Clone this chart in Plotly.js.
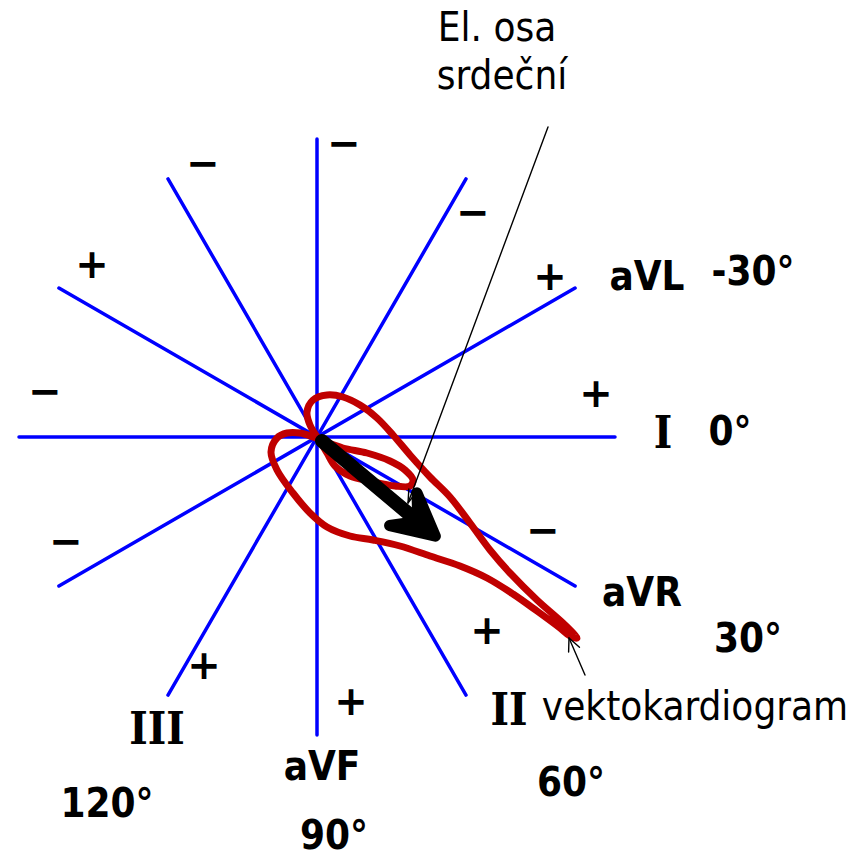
<!DOCTYPE html>
<html><head><meta charset="utf-8">
<script src="https://cdn.plot.ly/plotly-3.0.1.min.js"></script>
<style>html,body{margin:0;padding:0;background:#fff;} .js-line{stroke-linecap:round;stroke-linejoin:round;}</style>
</head><body><div id="chart" style="width:865px;height:856px;"></div>
<script>
// Hexaxial reference system: lead axes (degrees, positive = downward)
const leadAngles = [0, 30, 60, 90, 120, 150];
const leadRadius = 298;

// Vectorcardiogram loop (offset from the centre, y downward)
const vcgX = [1,-7,-10,-4,10,26,43,60,76,93,113,133,153,173,193,220,246,257,260,253,243,220,196,170,143,113,83,56,33,10,-7,-24,-40,-46,-40,-30,-17,-4,6,26,50,73,88,96,93,78,53,33,18,10,3];
const vcgY = [1,-12,-25,-37,-42,-40,-32,-19,-2,18,40,60,86,113,136,163,186,197,201,199,191,174,157,141,129,119,109,103,99,90,76,56,33,15,1,-4,-4,0,4,11,16,24,33,43,49,49,44,39,29,16,4];

// Electrical heart axis (degrees, length)
const axisAngle = 40;
const axisLength = 148;
const axisStart = [5, 4];

// Thin label pointers
const axisPointerFrom = [231, -310], axisPointerTo = [91, 66];
const vcgPointerFrom = [268, 238], vcgPointerTo = [252, 201];

// Polarity signs
const signText = ['\u2212','+','\u2212','+','\u2212','+','+','\u2212','+','\u2212','+','\u2212'];
const signX = [-114,170,27,34,156,-113,233,-251,-225,226,279,-272];
const signY = [-270,197,-290,268,-221,232,-157,108,-169,97,-40,-42];

// Lead labels (bold)
const boldText = ['aVL','-30\u00b0','0\u00b0','aVR','30\u00b0','60\u00b0','aVF','120\u00b0','90\u00b0'];
const boldX = [330,436,413,325,431,254,5,-210,17];
const boldY = [-157,-162,-2,159,205,349,333,370,402];
// Roman lead labels
const romanText = ['I','II','III'];
const romanX = [346,192,-160];
const romanY = [0,277,296];
// Plain labels
const plainText = ['vektokardiogram','El. osa','srde\u010dn\u00ed'];
const plainX = [378,180,185];
const plainY = [273,-406,-358];

const cx = 317, cy = 437, W = 865, H = 856;
const rad = d => d * Math.PI / 180;

// lead lines
const lx = [], ly = [];
leadAngles.forEach(a => {
  lx.push(-leadRadius*Math.cos(rad(a)), leadRadius*Math.cos(rad(a)), null);
  ly.push(-leadRadius*Math.sin(rad(a)), leadRadius*Math.sin(rad(a)), null);
});

// electrical axis arrow
const ux = Math.cos(rad(axisAngle)), uy = Math.sin(rad(axisAngle));
const tip = [axisStart[0] + axisLength*ux, axisStart[1] + axisLength*uy];
const headLen = 47, headAng = 27, notch = 23;
function back(p, ang, len){ const b = rad(axisAngle + 180 + ang); return [p[0]+len*Math.cos(b), p[1]+len*Math.sin(b)]; }
const b1 = back(tip, headAng, headLen), b2 = back(tip, -headAng, headLen), nt = back(tip, 0, notch);
const shaftEnd = back(tip, 0, 18);

function pointer(from, to, len, ang){
  const a = Math.atan2(from[1]-to[1], from[0]-to[0]);
  const p1 = [to[0]+len*Math.cos(a+rad(ang)), to[1]+len*Math.sin(a+rad(ang))];
  const p2 = [to[0]+len*Math.cos(a-rad(ang)), to[1]+len*Math.sin(a-rad(ang))];
  return {x:[from[0],to[0],null,p1[0],to[0],p2[0]], y:[from[1],to[1],null,p1[1],to[1],p2[1]]};
}
const ap = pointer(axisPointerFrom, axisPointerTo, 14, 17);
const vp = pointer(vcgPointerFrom, vcgPointerTo, 14, 25);

const boldFont = {family:'"DejaVu Sans Condensed", "DejaVu Sans", sans-serif', size:40, color:'#000', weight:'bold'};

const traces = [
  {x:lx, y:ly, mode:'lines', line:{color:'#0000FF', width:3.5}, hoverinfo:'skip'},
  {x:vcgX, y:vcgY, mode:'lines', line:{color:'#C00000', width:7, shape:'spline', smoothing:1}, hoverinfo:'skip'},
  {x:[axisStart[0], shaftEnd[0]], y:[axisStart[1], shaftEnd[1]], mode:'lines', line:{color:'#000', width:14}, hoverinfo:'skip'},
  {x:[tip[0], b1[0], nt[0], b2[0], tip[0]], y:[tip[1], b1[1], nt[1], b2[1], tip[1]], mode:'lines', fill:'toself', fillcolor:'#000', line:{color:'#000', width:11}, hoverinfo:'skip'},
  {x:ap.x, y:ap.y, mode:'lines', line:{color:'#000', width:1.4}, hoverinfo:'skip'},
  {x:vp.x, y:vp.y, mode:'lines', line:{color:'#000', width:1.4}, hoverinfo:'skip'},
  {x:signX, y:signY, text:signText, mode:'text', textposition:'middle center', textfont:{family:'"DejaVu Sans", sans-serif', size:40, color:'#000', weight:'bold'}, hoverinfo:'skip'},
  {x:boldX, y:boldY, text:boldText, mode:'text', textposition:'middle center', textfont:boldFont, hoverinfo:'skip'},
  {x:romanX, y:romanY, text:romanText, mode:'text', textposition:'middle center', textfont:{family:'"DejaVu Serif Condensed", "DejaVu Serif", serif', size:44, color:'#000', weight:'bold'}, hoverinfo:'skip'},
  {x:plainX, y:plainY, text:plainText, mode:'text', textposition:'middle center', textfont:{family:'"DejaVu Sans Condensed", "DejaVu Sans", sans-serif', size:40, color:'#000'}, hoverinfo:'skip'}
];

const layout = {
  width:W, height:H, margin:{l:0,r:0,t:0,b:0}, showlegend:false,
  paper_bgcolor:'#fff', plot_bgcolor:'#fff',
  xaxis:{range:[-cx, W-cx], visible:false, fixedrange:true},
  yaxis:{range:[H-cy, -cy], visible:false, fixedrange:true}
};
Plotly.newPlot('chart', traces, layout, {staticPlot:true, displayModeBar:false});
</script></body></html>
